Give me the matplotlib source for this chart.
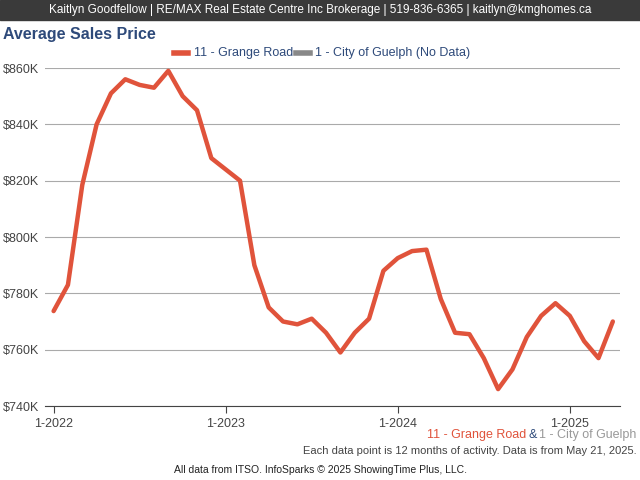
import matplotlib.pyplot as plt
import numpy as np

plt.rcParams['font.family'] = ['Liberation Sans', 'DejaVu Sans']

months = np.arange(40)
grange = [773.7, 783, 818.5, 840, 851, 856, 854, 853, 859, 850, 845, 828, 824, 820,
          790, 775, 770, 769, 771, 766, 759, 766, 771, 788, 792.5, 795, 795.5, 778,
          766, 765.5, 757, 746, 753, 764.5, 772, 776.5, 772, 763, 757, 770]
yticks = [740, 760, 780, 800, 820, 840, 860]
xtick_pos = [0, 12, 24, 36]
xtick_labels = ['1-2022', '1-2023', '1-2024', '1-2025']

red = '#e0533b'
blue = '#2e4a7a'
fig = plt.figure(figsize=(6.4, 4.8), dpi=100)
ax = fig.add_axes([45/640, 1-406/480, 575/640, 338/480])
ax.plot(months, grange, color=red, lw=3.2, solid_capstyle='round')
ax.set_ylim(740, 860)
ax.set_xlim(-0.6, 39.5)
ax.set_yticks(yticks)
ax.set_yticklabels([f'${v}K' for v in yticks], fontsize=9, color='#444444')
ax.set_xticks(xtick_pos)
ax.set_xticklabels(xtick_labels, fontsize=9, color='#444444')
ax.grid(axis='y', color='#aaaaaa', lw=0.8)
for s in ['top', 'right', 'left']:
    ax.spines[s].set_visible(False)
ax.spines['bottom'].set_color('#444444')
ax.tick_params(axis='y', length=0, pad=4)
ax.tick_params(axis='x', length=5, color='#444444')

fig.patches.append(plt.Rectangle((0, 1-20/480), 1, 20/480, transform=fig.transFigure,
                                 color='#3a3a3a', zorder=0))
fig.text(0.5, 1-10/480, 'Kaitlyn Goodfellow | RE/MAX Real Estate Centre Inc Brokerage | 519-836-6365 | kaitlyn@kmghomes.ca',
         ha='center', va='center', color='white', fontsize=8.5)
fig.text(3/640, 1-35/480, 'Average Sales Price', fontsize=11.5, fontweight='bold', color=blue, va='center')
fig.lines.append(plt.Line2D([174/640, 188/640], [1-53/480]*2, color=red, lw=4, transform=fig.transFigure))
fig.text(194/640, 1-53/480, '11 - Grange Road', fontsize=9, color=blue, va='center')
fig.lines.append(plt.Line2D([296/640, 310/640], [1-53/480]*2, color='#888888', lw=4, transform=fig.transFigure))
fig.text(315/640, 1-53/480, '1 - City of Guelph (No Data)', fontsize=9, color=blue, va='center')

fig.text(636/640, 1-435/480, '1 - City of Guelph', fontsize=9, color='#999999', ha='right', va='center')
fig.text(537/640, 1-435/480, '&', fontsize=9, color=blue, ha='right', va='center')
fig.text(526/640, 1-435/480, '11 - Grange Road', fontsize=9, color=red, ha='right', va='center')
fig.text(637/640, 1-451/480, 'Each data point is 12 months of activity. Data is from May 21, 2025.',
         fontsize=8, color='#444444', ha='right', va='center')
fig.text(320/640, 1-470/480, 'All data from ITSO. InfoSparks © 2025 ShowingTime Plus, LLC.',
         fontsize=7.5, color='#222222', ha='center', va='center')
fig.savefig('out.png')
